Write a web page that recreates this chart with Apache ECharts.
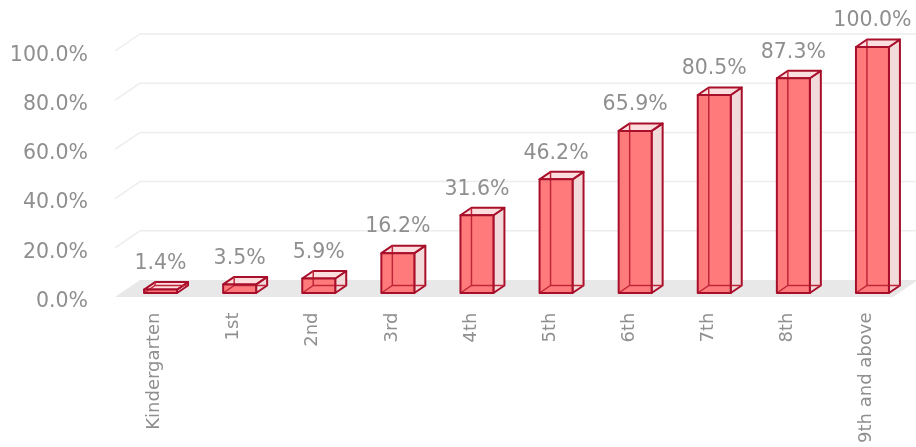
<!DOCTYPE html>
<html>
<head>
<meta charset="utf-8">
<script src="https://cdn.jsdelivr.net/npm/echarts@6/dist/echarts.min.js"></script>
<style>
html,body{margin:0;padding:0;background:#fff;}
#c{width:916px;height:447px;}
</style>
</head>
<body>
<div id="c"></div>
<script>
const categories = ['Kindergarten','1st','2nd','3rd','4th','5th','6th','7th','8th','9th and above'];
const values = [1.4, 3.5, 5.9, 16.2, 31.6, 46.2, 65.9, 80.5, 87.3, 100.0];
const yTicks = [0, 20, 40, 60, 80, 100];

const FONT = '"DejaVu Sans", sans-serif';
const TEXT_COLOR = '#8f8f8f';
const EDGE = '#a80f2b';
const HIDDEN = '#c0263a';

// depth offsets relative to the bar plane
const FRONT_DX = -6, FRONT_DY = 4;
const BACK_DX = 19, BACK_DY = -13;

const chart = echarts.init(document.getElementById('c'), null, {renderer: 'canvas'});

function renderWalls(params, api) {
  const cs = params.coordSys;
  const v = api.value(1);
  const y = api.coord([0, v])[1];
  const children = [];
  if (v === 0) {
    children.push({
      type: 'polygon',
      shape: {points: [
        [cs.x + FRONT_DX, y + FRONT_DY],
        [cs.x + cs.width - 19, y + FRONT_DY],
        [cs.x + cs.width + 6, y + BACK_DY],
        [cs.x + BACK_DX, y + BACK_DY]
      ]},
      style: {fill: '#e8e8e8'}
    });
  } else {
    children.push({
      type: 'line',
      shape: {x1: cs.x + FRONT_DX, y1: y + FRONT_DY, x2: cs.x + BACK_DX, y2: y + BACK_DY},
      style: {stroke: '#ededed', lineWidth: 1.5}
    });
    children.push({
      type: 'line',
      shape: {x1: cs.x + BACK_DX, y1: y + BACK_DY, x2: cs.x + cs.width + 30, y2: y + BACK_DY},
      style: {stroke: '#ededed', lineWidth: 1.5}
    });
  }
  return {type: 'group', children: children};
}

function renderBar(params, api) {
  const i = api.value(0), v = api.value(1);
  const top = api.coord([i, v]);
  const base = api.coord([i, 0]);
  const band = api.size([1, 0])[0];
  const w = band * 0.417;
  const x0 = top[0] - w / 2, x1 = x0 + w;
  const yt = top[1], yb = base[1];
  const dx = band * 0.139, dy = -7.5;
  const edgeStyle = {stroke: EDGE, lineWidth: 2, lineJoin: 'round'};
  return {
    type: 'group',
    children: [
      {type: 'polygon', shape: {points: [[x1, yb], [x1 + dx, yb + dy], [x1 + dx, yt + dy], [x1, yt]]},
        style: Object.assign({fill: '#f3dada'}, edgeStyle)},
      {type: 'polygon', shape: {points: [[x0, yt], [x1, yt], [x1 + dx, yt + dy], [x0 + dx, yt + dy]]},
        style: Object.assign({fill: '#fcdede'}, edgeStyle)},
      {type: 'rect', shape: {x: x0, y: yt, width: w, height: yb - yt},
        style: {fill: '#ff7b7b'}},
      {type: 'polyline', shape: {points: [[x0, yb], [x0 + dx, yb + dy], [x1 + dx, yb + dy]]},
        style: {stroke: HIDDEN, lineWidth: 1.5, fill: null}},
      {type: 'line', shape: {x1: x0 + dx, y1: yb + dy, x2: x0 + dx, y2: yt + dy},
        style: {stroke: HIDDEN, lineWidth: 1.5}},
      {type: 'rect', shape: {x: x0, y: yt, width: w, height: yb - yt},
        style: Object.assign({fill: null}, edgeStyle)},
      {type: 'text', style: {
        text: v.toFixed(1) + '%', x: (x0 + x1) / 2, y: yt - 26,
        align: 'center', verticalAlign: 'middle',
        fill: TEXT_COLOR, fontSize: 20.5, fontFamily: FONT
      }}
    ]
  };
}

const option = {
  animation: false,
  backgroundColor: '#ffffff',
  grid: [
    {left: 121, width: 791, top: 47, height: 246},
    {left: 115, width: 791, top: 55.5, height: 246}
  ],
  xAxis: [
    {gridIndex: 0, type: 'category', data: categories, show: false},
    {gridIndex: 1, type: 'category', data: categories,
      axisLine: {show: false}, axisTick: {show: false},
      axisLabel: {rotate: 90, margin: 11, color: TEXT_COLOR, fontSize: 18, fontFamily: FONT, interval: 0}}
  ],
  yAxis: [
    {gridIndex: 0, type: 'value', min: 0, max: 100, interval: 20, show: false},
    {gridIndex: 1, type: 'value', min: 0, max: 100, interval: 20,
      axisLine: {show: false}, axisTick: {show: false}, splitLine: {show: false},
      axisLabel: {margin: 27, color: TEXT_COLOR, fontSize: 20.5, fontFamily: FONT,
        formatter: function (v) { return v.toFixed(1) + '%'; }}}
  ],
  series: [
    {type: 'custom', xAxisIndex: 0, yAxisIndex: 0, z: 1, silent: true,
      renderItem: renderWalls, data: yTicks.map(function (t) { return [0, t]; })},
    {type: 'custom', xAxisIndex: 0, yAxisIndex: 0, z: 2, silent: true,
      renderItem: renderBar, data: values.map(function (v, i) { return [i, v]; })}
  ]
};
chart.setOption(option);
</script>
</body>
</html>
